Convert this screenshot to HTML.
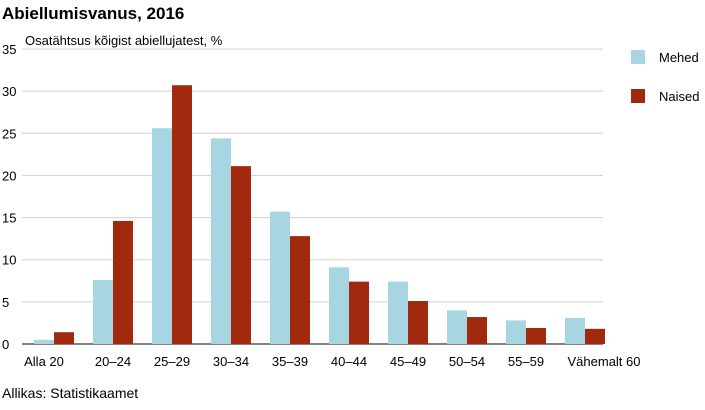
<!DOCTYPE html>
<html><head><meta charset="utf-8"><style>
body{margin:0;background:#fff;font-family:"Liberation Sans",sans-serif;}
svg text{font-family:"Liberation Sans",sans-serif;fill:#000;}
</style></head><body>
<svg id="chart" width="705" height="405" xmlns="http://www.w3.org/2000/svg">
<text x="2" y="19" font-size="17" font-weight="bold">Abiellumisvanus, 2016</text>
<text x="25" y="45" font-size="13">Osatähtsus kõigist abiellujatest, %</text>
<text x="2" y="398" font-size="14">Allikas: Statistikaamet</text>
<g id="grid"></g><g id="bars"></g><g id="xlabels"></g>
<rect x="631" y="50" width="14" height="14" fill="#a8d5e2"/>
<text x="659" y="62" font-size="13">Mehed</text>
<rect x="631" y="89" width="14" height="14" fill="#a0290e"/>
<text x="659" y="101" font-size="13">Naised</text>
</svg>
<script>
const categories=["Alla 20","20–24","25–29","30–34","35–39","40–44","45–49","50–54","55–59","Vähemalt 60"];
const mehed=[0.5,7.6,25.6,24.4,15.7,9.1,7.4,4.0,2.8,3.1];
const naised=[1.4,14.6,30.7,21.1,12.8,7.4,5.1,3.2,1.9,1.8];
const yTicks=[0,5,10,15,20,25,30,35];
const NS="http://www.w3.org/2000/svg";
const y=v=>344-v*(295/35);
const xc=i=>54+i*59;
function mk(tag,attrs,parent){const e=document.createElementNS(NS,tag);for(const k in attrs)e.setAttribute(k,attrs[k]);parent.appendChild(e);return e;}
const grid=document.getElementById('grid'),bars=document.getElementById('bars'),xl=document.getElementById('xlabels');
yTicks.forEach(t=>{
 const l=mk('line',{x1:22,x2:603,y1:y(t),y2:y(t),stroke:t===0?'#000':'#d0d0d0','stroke-width':1},grid);
 
 
 const tx=mk('text',{x:2,y:y(t)+5,'font-size':13},grid);tx.textContent=t;
 
 
});
categories.forEach((c,i)=>{
 const b1=mk('rect',{x:xc(i)-20,y:y(mehed[i]),width:20,height:y(0)-y(mehed[i]),fill:'#a8d5e2'},bars);
 
 
 const b2=mk('rect',{x:xc(i),y:y(naised[i]),width:20,height:y(0)-y(naised[i]),fill:'#a0290e'},bars);
 
 
 let cx=xc(i); if(i===0)cx=44; if(i===categories.length-1)cx=604;
 const t=mk('text',{x:cx,y:366,'font-size':13,'text-anchor':'middle'},xl);t.textContent=c;
 
 
});
</script>
</body></html>
